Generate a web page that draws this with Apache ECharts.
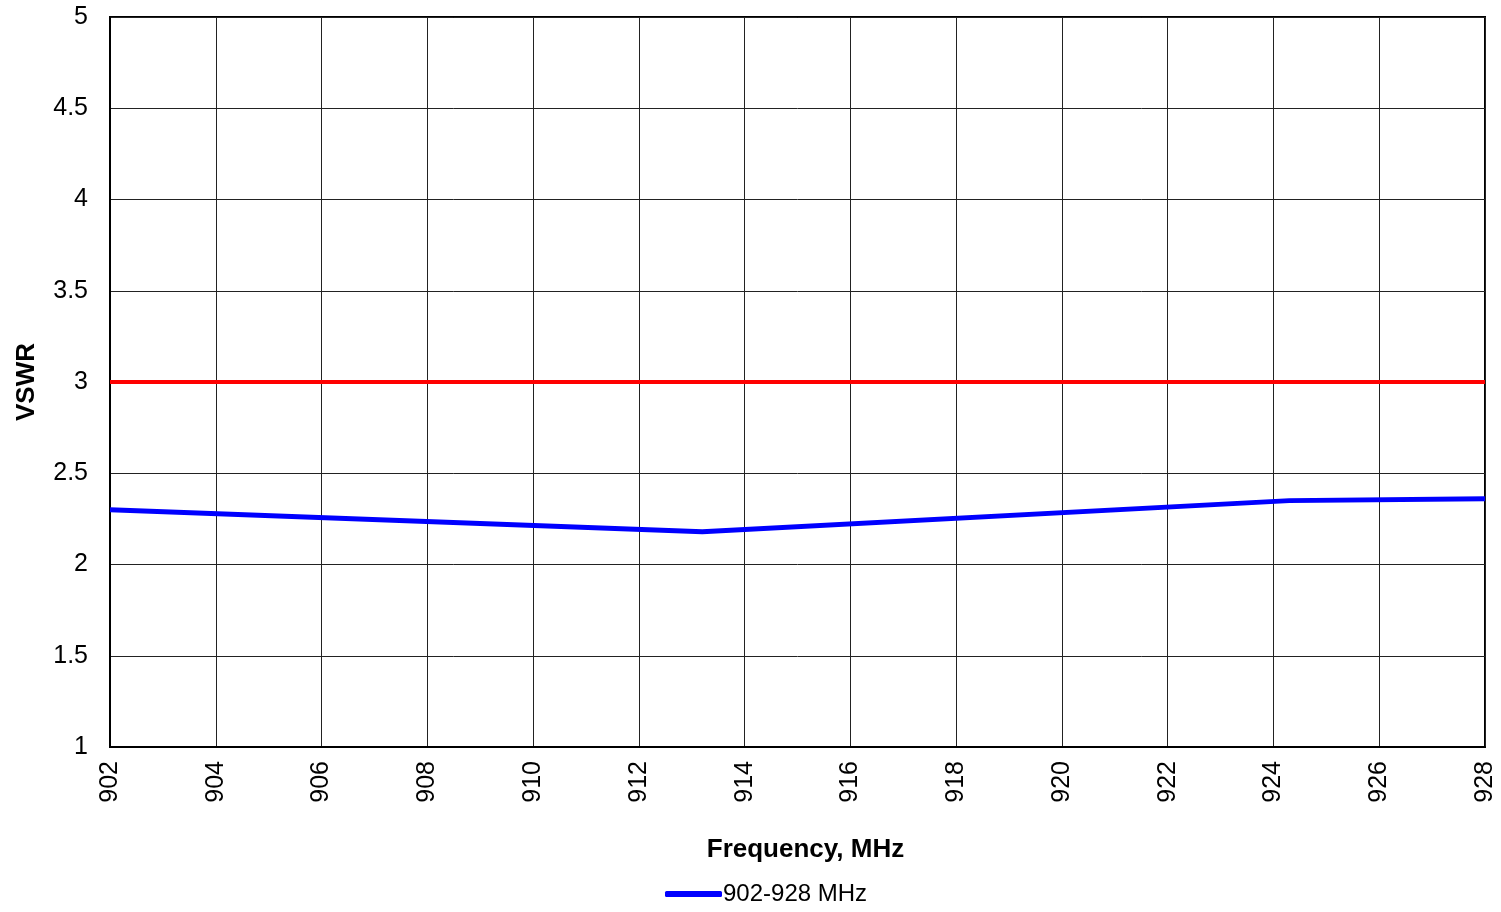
<!DOCTYPE html>
<html>
<head>
<meta charset="utf-8">
<script src="https://cdn.jsdelivr.net/npm/echarts@6/dist/echarts.min.js"></script>
<style>
  html, body { margin: 0; padding: 0; background: #fff; }
  #chart { width: 1501px; height: 912px; }
</style>
</head>
<body>
<div id="chart"></div>
<script>
// measured VSWR curve (frequency MHz, VSWR)
var freq = [902, 913.2, 924.3, 928];
var vswr = [2.30, 2.18, 2.35, 2.36];
// limit line
var limitFreq = [902, 928];
var limitVswr = [3, 3];

var chart = echarts.init(document.getElementById('chart'));
var font = 'Liberation Sans, Arial, sans-serif';

chart.setOption({
  animation: false,
  textStyle: { fontFamily: font },
  grid: {
    left: 110, right: 16, top: 17, bottom: 165,
    show: true, borderColor: '#000', borderWidth: 2, containLabel: false
  },
  legend: {
    data: [{ name: '902-928 MHz', icon: 'roundRect' }],
    bottom: 1,
    left: 660,
    itemWidth: 57,
    itemHeight: 6,
    itemGap: 4,
    itemStyle: { color: '#0000ff' },
    textStyle: { fontFamily: font, fontSize: 24, color: '#000', padding: [0, 0, 0, -4] }
  },
  xAxis: {
    type: 'value',
    min: 902, max: 928, interval: 2,
    name: 'Frequency, MHz',
    nameLocation: 'middle',
    nameGap: 90,
    nameTextStyle: { fontFamily: font, fontSize: 26, fontWeight: 'bold', color: '#000', padding: [0, 0, 0, 16] },
    axisLine: { lineStyle: { color: '#000', width: 2 } },
    axisTick: { show: false },
    axisLabel: { rotate: 90, fontSize: 25, color: '#000', margin: 14 },
    splitLine: { lineStyle: { color: '#222', width: 1 } }
  },
  yAxis: {
    type: 'value',
    min: 1, max: 5, interval: 0.5,
    name: 'VSWR',
    nameLocation: 'middle',
    nameGap: 70,
    nameTextStyle: { fontFamily: font, fontSize: 26, fontWeight: 'bold', color: '#000' },
    axisLine: { show: true, lineStyle: { color: '#000', width: 2 } },
    axisTick: { show: false },
    axisLabel: { fontSize: 25, color: '#000', margin: 22 },
    splitLine: { lineStyle: { color: '#222', width: 1 } }
  },
  series: [
    {
      name: 'limit',
      type: 'line',
      data: limitFreq.map(function (f, i) { return [f, limitVswr[i]]; }),
      symbol: 'none',
      lineStyle: { color: '#ff0000', width: 4 },
      z: 3
    },
    {
      name: '902-928 MHz',
      type: 'line',
      data: freq.map(function (f, i) { return [f, vswr[i]]; }),
      symbol: 'none',
      color: '#0000ff',
      lineStyle: { color: '#0000ff', width: 5 },
      z: 4
    }
  ]
});
</script>
</body>
</html>
